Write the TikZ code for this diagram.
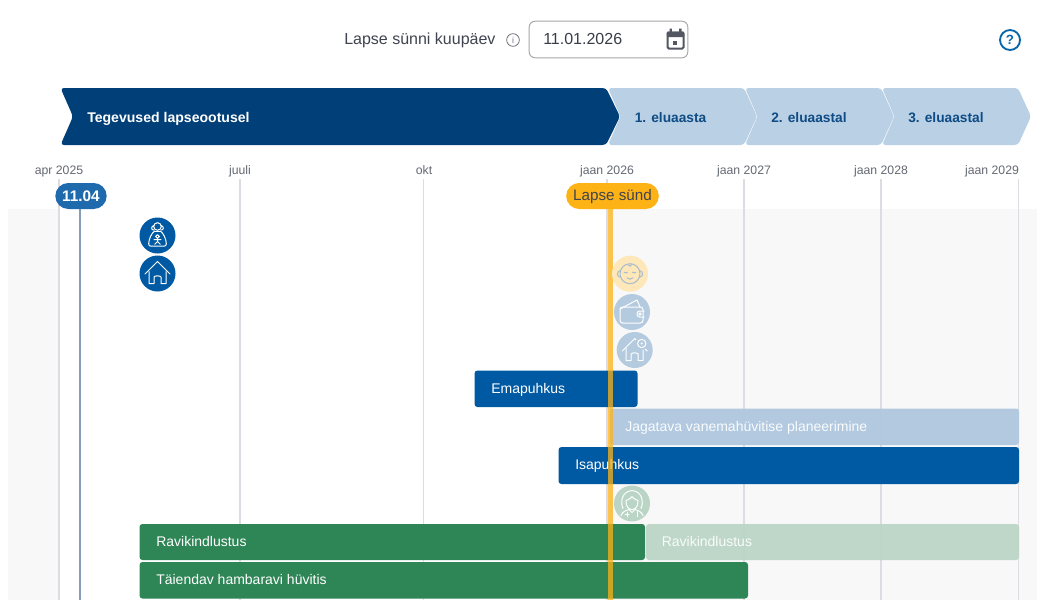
\documentclass[tikz,border=0pt]{standalone}
\usepackage{fontspec}
\usetikzlibrary{shapes.misc}
\setmainfont{Liberation Sans}
\definecolor{navy}{HTML}{003F78}
\definecolor{lightchev}{HTML}{B9D0E5}
\definecolor{chevtext}{HTML}{0F4C85}
\definecolor{barblue}{HTML}{0059A3}
\definecolor{barlight}{HTML}{B0C8E0}
\definecolor{bargreen}{HTML}{2E8555}
\definecolor{greenlight}{HTML}{BAD5C5}
\definecolor{pillblue}{HTML}{1F69AD}
\definecolor{pillorange}{HTML}{FDB216}
\definecolor{gridc}{HTML}{DCDCE2}
\definecolor{bgc}{HTML}{F8F8F8}
\definecolor{txt}{HTML}{3F4450}
\definecolor{helpc}{HTML}{0A66A8}
\tikzset{
  x=0.75pt,y=-0.75pt,
  gridline/.style={gridc,line width=0.85pt},
  ticklabel/.style={font=\fontsize{9.2pt}{11pt}\selectfont,text=txt!80,inner sep=0pt,anchor=base},
  barbox/.style={rounded corners=2.2pt,draw=none},
  barlabel/.style={font=\fontsize{10.5pt}{12pt}\selectfont,text=white,inner sep=0pt,anchor=base west},
  chevlabel/.style={font=\bfseries\fontsize{10.3pt}{12pt}\selectfont,inner sep=0pt,anchor=base west},
  pill/.style={rounded rectangle,inner sep=0pt,minimum height=19.5pt},
  iconline/.style={line width=0.75pt,line join=round,line cap=round,fill=none},
}
\newcommand{\homeshape}{%
  \draw[iconline] (-12.5,.5) -- (0,-12) -- (12.5,.5);
  \draw[iconline] (-8.5,-2) -- (-8.5,10) -- (-3.5,10) -- (-3.5,3.5) .. controls (-3.5,2) and (3.5,2) .. (3.5,3.5) -- (3.5,10) -- (8.5,10) -- (8.5,-2);}
\begin{document}
\begin{tikzpicture}
\useasboundingbox (0,0) rectangle (1037,600);
\fill[white] (0,0) rectangle (1037,600);
% background bands
\fill[bgc] (8,209) rectangle (59,600);
\fill[bgc] (610,209) rectangle (1037,600);
% header
\node[inner sep=0pt,anchor=base west,text=txt,font=\fontsize{12pt}{14pt}\selectfont] (datelabel) at (344,44) {Lapse sünni kuupäev};
\node[circle,draw=txt!75,line width=0.6pt,minimum size=9.5pt,inner sep=0pt,text=txt!75,font=\fontsize{6.5pt}{7pt}\selectfont] (info) at (513,40) {i};
\node[draw=black!35,line width=0.7pt,rounded corners=4.5pt,minimum width=119pt,minimum height=27.5pt,inner sep=0pt] (datebox) at (608.5,39.5) {};
\node[inner sep=0pt,anchor=base west,text=txt!90!black,font=\fontsize{12pt}{14pt}\selectfont] (dateval) at (543,44) {11.01.2026};
% calendar icon
\begin{scope}[shift={(675.5,39.5)}]
  \draw[txt!90,line width=1.5pt,rounded corners=1pt] (-8,-7) rectangle (8,9);
  \fill[txt!90,rounded corners=.6pt] (-8.7,-8) rectangle (8.7,-2.5);
  \fill[txt!90] (-6,-11) rectangle (-3.6,-7) (3.6,-11) rectangle (6,-7);
  \fill[txt!90] (-3,1) rectangle (1,5);
\end{scope}
\node[circle,draw=helpc,line width=1.4pt,minimum size=15pt,inner sep=0pt,text=helpc,font=\bfseries\fontsize{10pt}{11pt}\selectfont] (help) at (1010,40) {?};
% chevrons
\fill[navy,rounded corners=2.5pt] (60.5,88) -- (606,88) -- (620,116.5) -- (606,145) -- (60.5,145) -- (73,116.5) -- cycle;
\fill[lightchev,rounded corners=2.5pt] (608,88) -- (744,88) -- (757,116.5) -- (744,145) -- (608,145) -- (620.5,116.5) -- cycle;
\fill[lightchev,rounded corners=2.5pt] (745,88) -- (881,88) -- (894,116.5) -- (881,145) -- (745,145) -- (757.5,116.5) -- cycle;
\fill[lightchev,rounded corners=2.5pt] (882,88) -- (1018,88) -- (1031,116.5) -- (1018,145) -- (882,145) -- (894.5,116.5) -- cycle;
\node[chevlabel,text=white,font=\bfseries\fontsize{10.55pt}{12pt}\selectfont] (chev0) at (87,122.5) {Tegevused lapseootusel};
\node[chevlabel,text=chevtext] (chev1) at (634.5,122.5) {1. eluaasta};
\node[chevlabel,text=chevtext] (chev2) at (771,122.5) {2. eluaastal};
\node[chevlabel,text=chevtext] (chev3) at (908,122.5) {3. eluaastal};
% ticks
\node[ticklabel] (t0) at (59,174) {apr 2025};
\node[ticklabel] (t1) at (240,174) {juuli};
\node[ticklabel] (t2) at (424,174) {okt};
\node[ticklabel] (t3) at (607,174) {jaan 2026};
\node[ticklabel] (t4) at (744,174) {jaan 2027};
\node[ticklabel] (t5) at (881,174) {jaan 2028};
\node[ticklabel] (t6) at (992,174) {jaan 2029};
\draw[gridline] (59,179) -- (59,600);
\draw[gridline] (240,179) -- (240,600);
\draw[gridline] (423.5,179) -- (423.5,600);
\draw[gridline] (607,179) -- (607,600);
\draw[gridline] (744,179) -- (744,600);
\draw[gridline] (881,179) -- (881,600);
\draw[gridline] (1018.5,179) -- (1018.5,600);
% bars
\fill[barblue,barbox] (474.5,370.5) rectangle (637.5,407);
\node[barlabel] (b1) at (491,393) {Emapuhkus};
\fill[barlight,fill opacity=.96,barbox] (610,408.5) rectangle (1019,445);
\node[barlabel,text=white!92!barlight] (b2) at (625,431) {Jagatava vanemahüvitise planeerimine};
\fill[barblue,barbox] (558.5,447) rectangle (1019,484);
\node[barlabel] (b3) at (575,469) {Isapuhkus};
\fill[bargreen,barbox] (139.5,524) rectangle (645,560);
\node[barlabel] (b4) at (156,546) {Ravikindlustus};
\fill[greenlight,fill opacity=.93,barbox] (646,524) rectangle (1019,560);
\node[barlabel,text=white!92!greenlight] (b5) at (661.5,546) {Ravikindlustus};
\fill[bargreen,barbox] (139.5,562) rectangle (748,598.5);
\node[barlabel] (b6) at (156,584) {Täiendav hambaravi hüvitis};
% icons, dark
\fill[barblue] (157.5,235.5) circle (18);
\begin{scope}[shift={(157.5,235.5)},white]
  \draw[iconline] (0,-9) circle (3.8);
  \draw[iconline] (-3.8,-5.5) .. controls (-6.5,-5.5) and (-6.5,-9) .. (-3.8,-10);
  \draw[iconline] (3.8,-5.5) .. controls (6.5,-5.5) and (6.5,-9) .. (3.8,-10);
  \draw[iconline] (-3,-4.5) .. controls (-6,-2) and (-8.5,3) .. (-8.8,8) .. controls (-9,10) and (-8,10.5) .. (-7,10.5) -- (7,10.5) .. controls (8,10.5) and (9,10) .. (8.8,8) .. controls (8.5,3) and (6,-2) .. (3,-4.5);
  \draw[iconline] (-3,-4.5) -- (3,-4.5);
  \draw[iconline] (0,1) circle (1.9);
  \draw[iconline] (0,3) -- (0,6) (-3.5,4) -- (3.5,4) (0,6) -- (-2.8,8.8) (0,6) -- (2.8,8.8);
\end{scope}
\fill[barblue] (157.5,273.5) circle (18);
\begin{scope}[shift={(157.5,273.5)},white]\homeshape\end{scope}
% marker lines
\draw[pillblue!55!gridc!80!black,line width=1.5pt,opacity=.75] (80,205) -- (80,600);
\draw[pillorange,line width=3.2pt,opacity=.75] (610.5,205) -- (610.5,600);
\node[pill,fill=pillblue,text=white,minimum width=38.5pt,font=\bfseries\fontsize{11.5pt}{13pt}\selectfont] (today) at (81,196) {11.04};
\node[pill,fill=pillorange,text=txt,minimum width=69.5pt,text height=9.2pt,text depth=1.8pt,font=\fontsize{11.4pt}{13pt}\selectfont] (birth) at (612.5,196) {Lapse sünd};
% icons, faded
\fill[pillorange!30!white] (630,273.7) circle (18);
\begin{scope}[shift={(630,273.7)},black!10!lightchev]
  \draw[iconline] (0,0) circle (10);
  \draw[iconline] (-10,-3) .. controls (-13.5,-2) and (-13.5,3) .. (-9.5,3.5);
  \draw[iconline] (10,-3) .. controls (13.5,-2) and (13.5,3) .. (9.5,3.5);
  \draw[iconline] (-2,-9) .. controls (-1,-7) and (1.5,-7) .. (1.5,-9);
  \draw[iconline] (-6,-1.5) .. controls (-5,-.5) and (-3.5,-.5) .. (-2.5,-1.5);
  \draw[iconline] (2.5,-1.5) .. controls (3.5,-.5) and (5,-.5) .. (6,-1.5);
  \draw[iconline] (-3,4) .. controls (-1,6) and (1,6) .. (3,4);
\end{scope}
\fill[lightchev!97!black] (632,312) circle (18);
\begin{scope}[shift={(632,312)},white]
  \draw[iconline,rounded corners=2pt] (-12,-5) rectangle (11,11);
  \draw[iconline] (-12,-3) -- (5,-12) -- (8,-5);
  \draw[iconline,rounded corners=2pt] (12,-1) -- (5,-1) -- (5,5) -- (12,5);
  \draw[iconline] (8,2) circle (1.2);
\end{scope}
\fill[lightchev!97!black] (634.7,350) circle (18);
\begin{scope}[shift={(634.7,350.5)},white]
  \homeshape
  \fill[lightchev!97!black] (7,-7) circle (6.5);
  \draw[iconline] (7,-7) circle (4.2);
  \fill (7,-7) circle (1.1);
\end{scope}
\fill[greenlight] (632,503.5) circle (18);
\begin{scope}[shift={(632,503.5)},white]
  \draw[iconline] (-9,5) .. controls (-12,-2) and (-10,-12) .. (0,-13) .. controls (10,-12) and (12,-2) .. (9,5);
  \draw[iconline] (-6,-3) .. controls (-6,5) and (-2,6) .. (0,6) .. controls (2,6) and (6,5) .. (6,-3);
  \draw[iconline] (-6,-3) .. controls (-3,-4) and (-1,-5) .. (0,-7) .. controls (1,-5) and (3,-4) .. (6,-3);
  \draw[iconline] (-11,12) .. controls (-10,9) and (-7,7) .. (-3,6) -- (0,9) -- (3,6) .. controls (7,7) and (10,9) .. (11,12);
  \draw[iconline] (-7,11) -- (-3,11) (-5,9) -- (-5,13) (5,8) -- (5,13);
\end{scope}
\end{tikzpicture}
\end{document}
